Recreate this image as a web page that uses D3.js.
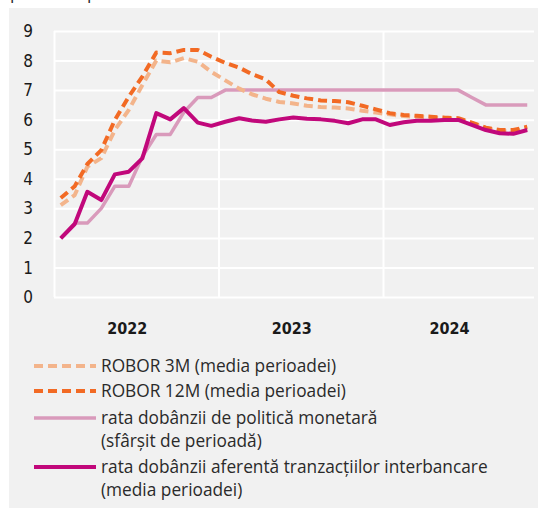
<!DOCTYPE html>
<html>
<head>
<meta charset="utf-8">
<script src="https://cdn.jsdelivr.net/npm/d3@7"></script>
<style>
  body { margin: 0; background: #fff; }
  svg { display: block; }
  .grid line { stroke: #fff; stroke-width: 2px; }
  .grid .domain { display: none; }
  .ylab { font-family: "Liberation Sans Narrow", "DejaVu Sans Condensed", sans-serif; font-size: 17px; fill: #1a1a1a; }
  .year { font-family: "Liberation Sans Narrow", "DejaVu Sans Condensed", sans-serif; font-size: 16px; font-weight: bold; fill: #1a1a1a; }
  .legend text, .unit { font-family: "Open Sans", sans-serif; font-size: 17.3px; fill: #2a2a2a; }
</style>
</head>
<body>
<svg id="chart"></svg>
<script>
const months = [
  "2022-01","2022-02","2022-03","2022-04","2022-05","2022-06","2022-07","2022-08","2022-09","2022-10","2022-11","2022-12",
  "2023-01","2023-02","2023-03","2023-04","2023-05","2023-06","2023-07","2023-08","2023-09","2023-10","2023-11","2023-12",
  "2024-01","2024-02","2024-03","2024-04","2024-05","2024-06","2024-07","2024-08","2024-09","2024-10","2024-11"
];
const robor3m = [3.11, 3.45, 4.41, 4.70, 5.65, 6.33, 7.17, 8.00, 7.94, 8.08, 7.96, 7.62,
  7.33, 7.05, 6.86, 6.71, 6.60, 6.55, 6.47, 6.43, 6.41, 6.38, 6.30, 6.24,
  6.18, 6.12, 6.10, 6.07, 6.05, 6.02, 5.88, 5.72, 5.62, 5.60, 5.70];
const robor12m = [3.35, 3.75, 4.50, 4.97, 5.99, 6.78, 7.46, 8.27, 8.25, 8.36, 8.36, 8.13,
  7.92, 7.76, 7.54, 7.36, 6.93, 6.81, 6.72, 6.65, 6.63, 6.59, 6.47, 6.35,
  6.22, 6.16, 6.13, 6.10, 6.07, 6.05, 5.90, 5.73, 5.65, 5.65, 5.76];
const policyRate = [2.00, 2.50, 2.50, 3.00, 3.75, 3.75, 4.75, 5.50, 5.50, 6.25, 6.75, 6.75,
  7.00, 7.00, 7.00, 7.00, 7.00, 7.00, 7.00, 7.00, 7.00, 7.00, 7.00, 7.00,
  7.00, 7.00, 7.00, 7.00, 7.00, 7.00, 6.75, 6.50, 6.50, 6.50, 6.50];
const interbank = [1.98, 2.47, 3.56, 3.28, 4.15, 4.24, 4.69, 6.22, 6.01, 6.39, 5.90, 5.79,
  5.93, 6.05, 5.97, 5.93, 6.01, 6.07, 6.03, 6.01, 5.96, 5.88, 6.01, 6.01,
  5.82, 5.91, 5.96, 5.96, 5.99, 5.99, 5.82, 5.65, 5.54, 5.52, 5.65];
const yTicks = [0, 1, 2, 3, 4, 5, 6, 7, 8, 9];
const years = ["2022", "2023", "2024"];
const unitLabel = "procente pe an";

const series = [
  {name: "ROBOR 3M (media perioadei)", values: robor3m, color: "#f3b48b", dash: "9,5", width: 4},
  {name: "ROBOR 12M (media perioadei)", values: robor12m, color: "#f26a24", dash: "9,5", width: 4},
  {name: ["rata dobânzii de politică monetară", "(sfârșit de perioadă)"], values: policyRate, color: "#d99abb", dash: null, width: 3.5},
  {name: ["rata dobânzii aferentă tranzacțiilor interbancare", "(media perioadei)"], values: interbank, color: "#c1087b", dash: null, width: 4}
];
const drawOrder = [2, 0, 1, 3];

const W = 542, H = 508;
const MARGIN = {top: 31, left: 54, right: 8, bottom: 211};
const WIDTH = 534 - MARGIN.left;
const HEIGHT = 297 - MARGIN.top;

const svg = d3.select("#chart").attr("width", W).attr("height", H);

svg.append("rect")
  .attr("x", 9).attr("y", 8)
  .attr("width", 529).attr("height", H - 8)
  .attr("fill", "#f1f1f1");

// unit label, cut off at the top edge as in the source
svg.append("text")
  .attr("class", "unit")
  .attr("x", 10).attr("y", -1)
  .text(unitLabel);

const parse = d3.timeParse("%Y-%m");
const dates = months.map(parse);
const mid = d => d3.timeDay.offset(d, 15);

const x = d3.scaleTime()
  .domain([dates[0], d3.timeMonth.offset(dates[dates.length - 1], 1)])
  .range([0, WIDTH]);
const y = d3.scaleLinear().domain([0, 9]).range([HEIGHT, 0]);

const g = svg.append("g").attr("transform", "translate(" + MARGIN.left + "," + MARGIN.top + ")");

// horizontal grid
g.append("g")
  .attr("class", "grid")
  .call(d3.axisLeft(y).tickValues(yTicks).tickSize(-WIDTH).tickFormat(""));

// vertical grid at year starts
const yearStarts = years.map(yr => new Date(+yr, 0, 1));
g.append("g")
  .attr("class", "grid")
  .attr("transform", "translate(0," + HEIGHT + ")")
  .call(d3.axisBottom(x).tickValues(yearStarts).tickSize(HEIGHT).tickFormat(""))
  .selectAll("line").attr("y2", -HEIGHT);

g.selectAll(".ylab")
  .data(yTicks)
  .join("text")
  .attr("class", "ylab")
  .attr("x", -21)
  .attr("y", d => y(d))
  .attr("dy", "0.36em")
  .attr("text-anchor", "end")
  .text(d => d);

// year labels, centred in each year's band
g.selectAll(".year")
  .data(years)
  .join("text")
  .attr("class", "year")
  .attr("text-anchor", "middle")
  .attr("x", (d, i) => {
    const a = x(yearStarts[i]);
    const b = Math.min(x(new Date(+d + 1, 0, 1)), WIDTH);
    return (a + b) / 2 - 9;
  })
  .attr("y", 334 - MARGIN.top)
  .text(d => d);

const line = d3.line()
  .x((d, i) => x(mid(dates[i])))
  .y(d => y(d))
  .curve(d3.curveLinear);

drawOrder.forEach(k => {
  const s = series[k];
  g.append("path")
    .datum(s.values)
    .attr("fill", "none")
    .attr("stroke", s.color)
    .attr("stroke-width", s.width)
    .attr("stroke-dasharray", s.dash)
    .attr("stroke-linejoin", "round")
    .attr("d", line);
});

// legend
const legend = svg.append("g").attr("class", "legend");
const rowY = [366, 391, 418, 467];
series.forEach((s, i) => {
  const ly = rowY[i];
  legend.append("line")
    .attr("x1", 34).attr("x2", 96)
    .attr("y1", ly).attr("y2", ly)
    .attr("stroke", s.color)
    .attr("stroke-width", s.width)
    .attr("stroke-dasharray", s.dash);
  const lines = Array.isArray(s.name) ? s.name : [s.name];
  legend.append("text")
    .attr("x", 101)
    .attr("y", ly)
    .attr("dy", "0.35em")
    .selectAll("tspan")
    .data(lines)
    .join("tspan")
    .attr("x", 101)
    .attr("dy", (d, j) => j ? "23px" : null)
    .text(d => d);
});
</script>
</body>
</html>
